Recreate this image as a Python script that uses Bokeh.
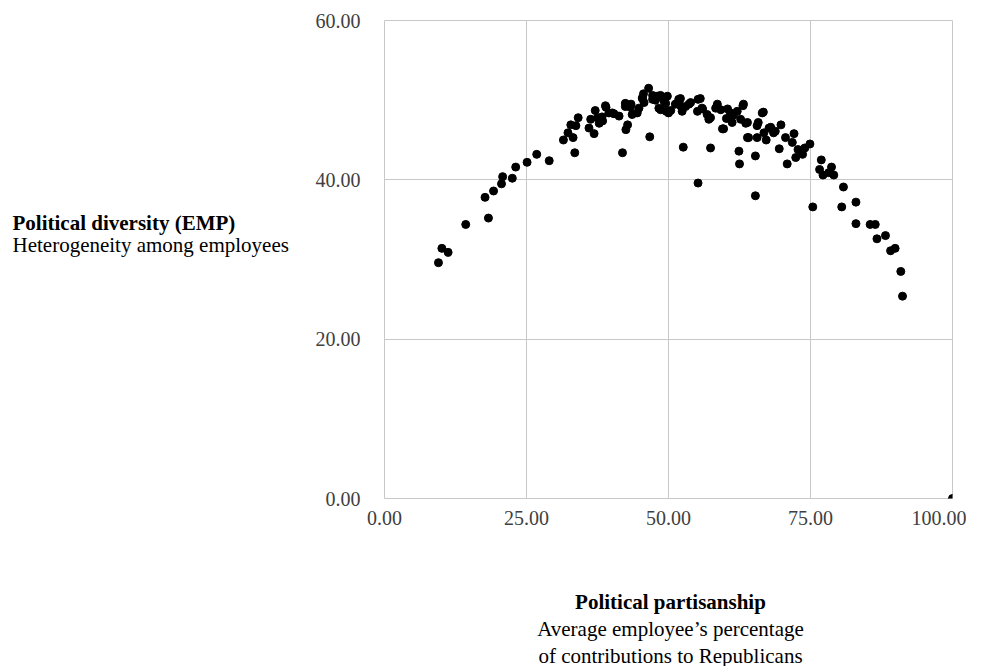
from bokeh.plotting import figure
from bokeh.models import Range1d, FixedTicker, NumeralTickFormatter, ColumnDataSource
from bokeh.layouts import row, column
from bokeh.core.properties import value
from bokeh.embed import file_html
from bokeh.resources import INLINE

# Political partisanship (x) vs political diversity (y)
partisanship = [
    9.5, 10.1, 11.2, 14.3, 18.3, 17.7, 19.2, 20.6, 20.8, 22.5, 23.1, 25.1, 26.8, 29.0,
    33.5, 31.5, 32.3, 32.8, 33.2, 34.1, 33.7, 36.0, 36.3, 36.9, 37.1, 37.8, 38.3, 39.0,
    39.5, 40.4, 41.3, 41.9, 42.5, 42.8, 42.4, 43.4, 43.6, 44.5, 44.8, 45.4, 45.7, 46.5,
    46.7, 47.2, 48.0, 48.3, 49.2, 49.6, 48.3, 49.8, 50.0, 48.6, 51.8, 52.4, 52.6, 53.6,
    55.2, 55.1, 55.9, 55.2, 56.8, 57.1, 57.4, 58.3, 59.2, 59.5, 60.2, 60.9, 61.2, 62.1,
    62.4, 62.5, 62.7, 63.1, 63.6, 63.9, 65.3, 65.3, 65.6, 65.6, 66.5, 66.8, 67.2, 67.7,
    68.5, 68.8, 69.5, 69.8, 70.6, 70.9, 71.8, 72.1, 72.4, 72.8, 73.6, 74.0, 74.9, 75.4,
    76.9, 76.6, 77.2, 78.7, 78.2, 79.1, 80.8, 80.5, 83.0, 83.0, 85.5, 86.4, 86.7, 88.2,
    89.1, 89.9, 90.9, 91.2, 100.0,
    38.9, 37.5, 38.4, 40.1, 42.4, 43.3, 45.4, 45.6, 47.2, 47.7, 48.6, 49.5, 50.4, 51.2,
    52.1, 53.0, 52.1, 53.9, 55.6, 56.0, 57.4, 58.6, 60.4, 60.9, 61.4, 63.2, 63.9, 66.7,
    65.8, 68.0, 59.7, 64.1,
]
diversity = [
    29.6, 31.4, 30.9, 34.4, 35.2, 37.8, 38.6, 39.5, 40.4, 40.2, 41.6, 42.2, 43.2, 42.4,
    43.4, 45.0, 45.9, 46.9, 45.3, 47.8, 46.8, 46.5, 47.6, 45.8, 48.7, 47.1, 47.9, 49.1,
    48.4, 48.3, 48.0, 43.4, 46.3, 46.9, 49.2, 49.5, 48.2, 48.4, 49.0, 50.3, 49.7, 51.5,
    45.4, 50.1, 50.5, 49.0, 49.9, 48.6, 50.5, 50.5, 48.4, 48.8, 50.1, 48.6, 44.1, 49.5,
    50.1, 48.6, 49.0, 39.6, 48.2, 47.6, 44.0, 49.0, 48.8, 46.4, 47.7, 48.4, 47.2, 48.6,
    43.6, 42.0, 47.6, 49.3, 47.1, 45.3, 43.0, 38.0, 46.8, 45.3, 48.4, 45.9, 45.0, 46.5,
    45.9, 46.1, 43.9, 46.9, 45.3, 42.0, 44.7, 45.8, 42.8, 43.8, 43.2, 44.0, 44.5, 36.6,
    42.5, 41.3, 40.6, 41.6, 40.9, 40.6, 39.1, 36.6, 37.2, 34.5, 34.4, 34.4, 32.6, 33.0,
    31.1, 31.4, 28.5, 25.4, 0.0,
    49.3, 47.8, 47.4, 48.4, 49.6, 49.1, 50.2, 50.8, 50.6, 50.0, 50.6, 49.6, 48.7, 49.5,
    49.3, 49.2, 50.2, 49.7, 50.2, 48.9, 47.8, 49.5, 48.9, 47.7, 48.1, 49.5, 47.2, 48.5,
    47.2, 46.6, 46.4, 45.3,
]
x_ticks = [0, 25, 50, 75, 100]
y_ticks = [0, 20, 40, 60]

y_title = ["Political diversity (EMP)", "Heterogeneity among employees"]
x_title = ["Political partisanship", "Average employee\u2019s percentage", "of contributions to Republicans"]

FONT = value("Liberation Serif")
SIZE = value("21px")


def text_panel(width, height):
    f = figure(width=width, height=height, output_backend="svg", toolbar_location=None,
               x_range=Range1d(0, width), y_range=Range1d(height, 0),
               x_axis_type=None, y_axis_type=None,
               min_border=0, min_border_left=0, min_border_right=0,
               min_border_top=0, min_border_bottom=0)
    f.outline_line_color = None
    f.grid.visible = False
    f.background_fill_color = "white"
    f.border_fill_color = "white"
    return f


# Main scatter plot
src = ColumnDataSource(dict(x=partisanship, y=diversity))
p = figure(width=666, height=560, output_backend="svg", toolbar_location=None,
           x_range=Range1d(0, 100), y_range=Range1d(0, 60),
           min_border_left=84, min_border_right=14, min_border_top=20, min_border_bottom=62)
p.background_fill_color = "white"
p.border_fill_color = "white"
p.outline_line_color = "#c8c8c8"
p.outline_line_width = 1

for ax in (p.xaxis[0], p.yaxis[0]):
    ax.axis_line_color = None
    ax.major_tick_line_color = None
    ax.minor_tick_line_color = None
    ax.major_tick_out = 0
    ax.major_tick_in = 0
    ax.minor_tick_out = 0
    ax.major_label_text_font = "Liberation Serif"
    ax.major_label_text_font_size = "20px"
    ax.major_label_text_color = "#404040"
    ax.formatter = NumeralTickFormatter(format="0.00")

p.xaxis[0].ticker = FixedTicker(ticks=x_ticks)
p.yaxis[0].ticker = FixedTicker(ticks=y_ticks)
p.xaxis[0].major_label_standoff = 12
p.yaxis[0].major_label_standoff = 24

p.xgrid.ticker = FixedTicker(ticks=x_ticks)
p.ygrid.ticker = FixedTicker(ticks=y_ticks)
p.grid.grid_line_color = "#c8c8c8"
p.grid.grid_line_width = 1

p.scatter("x", "y", source=src, size=8, color="black", line_color="black")

# Left panel with the y title (horizontal text)
left = text_panel(300, 560)
left.text(x=[12], y=[237], text=[y_title[0]], text_font=FONT, text_font_size=SIZE,
          text_font_style="bold", text_baseline="middle", text_align="left", text_color="black")
left.text(x=[12], y=[263], text=[y_title[1]], text_font=FONT, text_font_size=SIZE,
          text_font_style="normal", text_baseline="middle", text_align="left", text_color="black")

# Bottom panel with the x title
bottom = text_panel(966, 106)
bottom.text(x=[670], y=[41], text=[x_title[0]], text_font=FONT, text_font_size=SIZE,
            text_font_style="bold", text_baseline="middle", text_align="center", text_color="black")
bottom.text(x=[670, 670], y=[68, 95], text=x_title[1:], text_font=FONT, text_font_size=SIZE,
            text_font_style="normal", text_baseline="middle", text_align="center", text_color="black")

layout = column(row(left, p, spacing=0), bottom, spacing=0)

open("out.html", "w").write(file_html(layout, INLINE))
